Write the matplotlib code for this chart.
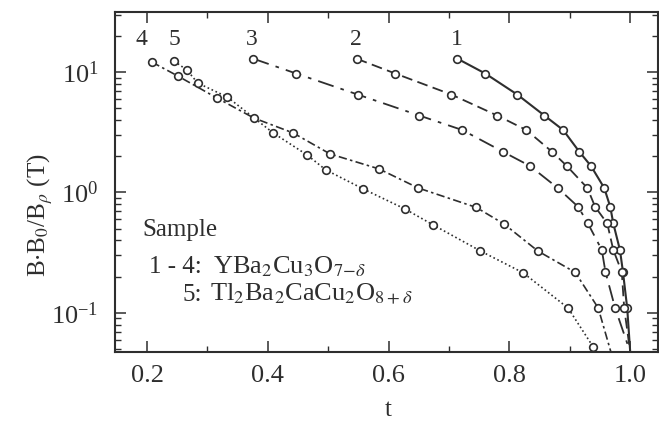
import matplotlib
matplotlib.use('Agg')
import matplotlib.pyplot as plt
from matplotlib.ticker import LogLocator, MultipleLocator, NullFormatter

plt.rcParams['font.family'] = ['Liberation Serif', 'DejaVu Serif']
plt.rcParams['mathtext.fontset'] = 'stix'

# reduced temperature t and scaled field B*B0/Bp (T) for each sample
t1 = [0.714, 0.760, 0.813, 0.858, 0.889, 0.916, 0.935, 0.957, 0.967, 0.972, 0.983, 0.988, 0.995]
b1 = [12.9, 9.72, 6.50, 4.35, 3.30, 2.17, 1.66, 1.09, 0.759, 0.553, 0.333, 0.219, 0.110]

t2 = [0.547, 0.611, 0.704, 0.780, 0.828, 0.871, 0.895, 0.929, 0.942, 0.962, 0.972, 0.986, 0.990]
b2 = [12.9, 9.72, 6.50, 4.35, 3.30, 2.17, 1.66, 1.09, 0.759, 0.553, 0.333, 0.219, 0.110]

t3 = [0.376, 0.447, 0.549, 0.651, 0.722, 0.790, 0.834, 0.880, 0.914, 0.930, 0.953, 0.959, 0.975]
b3 = [12.9, 9.72, 6.50, 4.35, 3.30, 2.17, 1.66, 1.09, 0.759, 0.553, 0.333, 0.219, 0.110]

t4 = [0.208, 0.251, 0.316, 0.377, 0.442, 0.503, 0.584, 0.649, 0.745, 0.791, 0.847, 0.909, 0.947]
b4 = [12.1, 9.27, 6.08, 4.15, 3.12, 2.09, 1.57, 1.09, 0.752, 0.548, 0.327, 0.217, 0.110]

t5 = [0.245, 0.266, 0.284, 0.333, 0.409, 0.465, 0.496, 0.558, 0.627, 0.674, 0.752, 0.823, 0.897, 0.939]
b5 = [12.3, 10.4, 8.1, 6.2, 3.12, 2.05, 1.54, 1.07, 0.73, 0.537, 0.327, 0.215, 0.110, 0.052]

# where each curve runs out at the bottom of the plot (None = ends at last point)
t_end = [1.0, 1.0, 1.0, 0.968, None]

curve_names = ['1', '2', '3', '4', '5']
# position of the curve numbers above the curves
name_t = [0.713, 0.545, 0.373, 0.191, 0.246]
name_b = [18.5, 18.5, 18.5, 18.5, 18.5]

x_lim = (0.147, 1.046)
y_lim = (0.0474, 31.5)

ink = '#2e2e2e'
dash_styles = [
    (0, ()),
    (0, (6, 3)),
    (0, (9, 4, 2, 4)),
    (0, (5, 2, 1.5, 2)),
    (0, (1, 1.6)),
]
line_widths = [1.5, 1.3, 1.3, 1.2, 1.2]

fig = plt.figure(figsize=(6.59, 4.26), dpi=100)
ax = fig.add_axes([115 / 659, 74 / 426, 543 / 659, 340 / 426])

curves = [(t1, b1), (t2, b2), (t3, b3), (t4, b4), (t5, b5)]
for i, (tt, bb) in enumerate(curves):
    lt, lb = list(tt), list(bb)
    if t_end[i] is not None:
        lt.append(t_end[i])
        lb.append(y_lim[0])
    ax.plot(lt, lb, color=ink, lw=line_widths[i], linestyle=dash_styles[i], zorder=2)
    ax.plot(tt, bb, 'o', ms=5.5, mfc='white', mec=ink, mew=1.2, linestyle='none', zorder=3)
    ax.text(name_t[i], name_b[i], curve_names[i], fontsize=17, color=ink,
            ha='center', va='center')

ax.set_yscale('log')
ax.set_xlim(*x_lim)
ax.set_ylim(*y_lim)

ax.xaxis.set_major_locator(MultipleLocator(0.2))
ax.xaxis.set_minor_locator(MultipleLocator(0.1))
ax.xaxis.set_major_formatter(plt.FuncFormatter(lambda v, p: f'{v:.1f}'))
ax.yaxis.set_major_locator(LogLocator(base=10))
ax.yaxis.set_minor_locator(LogLocator(base=10, subs=range(2, 10)))
ax.yaxis.set_minor_formatter(NullFormatter())

ax.tick_params(which='both', direction='in', top=True, right=True,
               colors=ink, labelcolor=ink)
ax.tick_params(which='major', length=8, width=1.1, labelsize=19, pad=9)
ax.tick_params(which='minor', length=4, width=1.0)
ax.tick_params(axis='y', which='major', pad=12)
for sp in ax.spines.values():
    sp.set_color(ink)
    sp.set_linewidth(1.5)

# sample legend
ax.text(0.050, 0.359, 'Sample', transform=ax.transAxes, fontsize=18,
        color=ink, va='center', ha='left')
ax.text(0.160, 0.25, '1 - 4:', transform=ax.transAxes, fontsize=18,
        color=ink, va='center', ha='right')
ax.text(0.180, 0.25, r'YBa$_2$Cu$_3$O$_{7\mathrm{-}\delta}$', transform=ax.transAxes,
        fontsize=19, color=ink, va='center', ha='left')
ax.text(0.160, 0.168, '5:', transform=ax.transAxes, fontsize=18,
        color=ink, va='center', ha='right')
ax.text(0.175, 0.168, r'Tl$_2$Ba$_2$CaCu$_2$O$_{8+\delta}$', transform=ax.transAxes,
        fontsize=19, color=ink, va='center', ha='left')

fig.text(40 / 659, 1 - 215 / 426, r'B$\cdot$B$_0$/B$_\rho$ (T)', rotation=90,
         fontsize=18, color=ink, ha='center', va='center')
fig.text(388 / 659, 1 - 410 / 426, 't', fontsize=18, color=ink,
         ha='center', va='center')

fig.savefig('out.png', dpi=100)
